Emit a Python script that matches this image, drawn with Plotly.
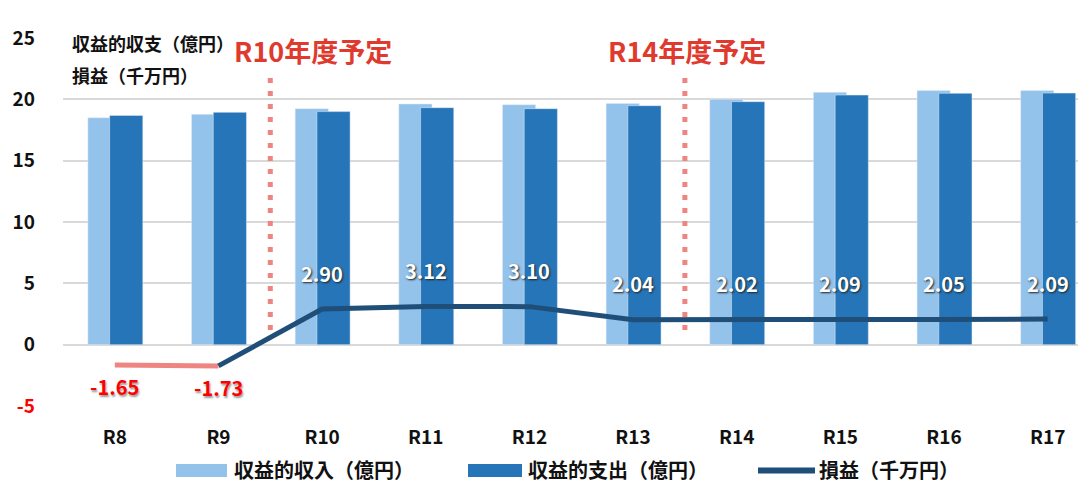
"""
収益的収支と損益の推移 - Plotly
"""

import plotly.graph_objects as go

# data
years = ["R8", "R9", "R10", "R11", "R12", "R13", "R14", "R15", "R16", "R17"]
income = [18.50, 18.78, 19.24, 19.62, 19.56, 19.67, 20.00, 20.57, 20.71, 20.71]   # 収益的収入（億円）
expense = [18.69, 18.94, 19.00, 19.32, 19.24, 19.48, 19.81, 20.35, 20.49, 20.51]  # 収益的支出（億円）
profit = [-1.65, -1.73, 2.90, 3.12, 3.10, 2.04, 2.02, 2.09, 2.05, 2.09]           # 損益（千万円）

y_ticks = [-5, 0, 5, 10, 15, 20, 25]
plan_marks = [(1.5, 1.91, "R10年度予定"), (5.5, 5.52, "R14年度予定")]

FONT = "Noto Sans CJK JP"
LIGHT = "#93C2EA"
DARK = "#2675B8"
NAVY = "#1F4E79"
PINK = "#EE8580"
RED = "#E03A2F"

# the page body adds an 8px margin, so the figure is a bit smaller than the window
OFF = 8
W, H = 1086 - OFF, 484 - OFF
ML, MR, MT, MB = 55, 0, 30, 78
PW, PH = W - ML - MR, H - MT - MB


def px_x(p):
    # window pixel -> paper x
    return (p - OFF - ML) / PW


def px_y(p):
    # window pixel -> paper y
    return (H - MB - (p - OFF)) / PH


idx = list(range(len(years)))

fig = go.Figure()

fig.add_trace(go.Bar(
    x=idx, y=income, name="収益的収入（億円）", showlegend=False,
    marker=dict(color=LIGHT), offset=-0.26, width=0.32,
))
fig.add_trace(go.Bar(
    x=idx, y=expense, name="収益的支出（億円）", showlegend=False,
    marker=dict(color=DARK), offset=-0.05, width=0.32,
))

# 損益: first segment (deficit) in pink, rest in navy
fig.add_trace(go.Scatter(
    x=idx[:2], y=profit[:2], mode="lines", showlegend=False,
    line=dict(color=PINK, width=5),
))
fig.add_trace(go.Scatter(
    x=idx[1:], y=profit[1:], mode="lines", name="損益（千万円）", showlegend=False,
    line=dict(color=NAVY, width=5),
))

# value labels
for i, v in enumerate(profit):
    if v >= 0:
        fig.add_annotation(
            x=i, y=v, text=f"{v:.2f}", showarrow=False, yshift=36,
            font=dict(family=FONT, size=20, color="white", weight="bold",
                      shadow="1px 1px 2px #222"),
        )
    else:
        fig.add_annotation(
            x=i, y=v, text=f"{v:.2f}", showarrow=False, yshift=-22,
            font=dict(family=FONT, size=20, color="#FF0000", weight="bold",
                      shadow="1px 2px 2px #999"),
        )

# plan markers
for xline, xtext, label in plan_marks:
    fig.add_shape(
        type="line", xref="x", yref="y", x0=xline, x1=xline, y0=1.2, y1=21.9,
        line=dict(color=PINK, width=5, dash="5px,8px"), layer="above",
    )
    fig.add_annotation(
        x=xtext, y=23.96, text=label, showarrow=False,
        font=dict(family=FONT, size=27, color=RED, weight="bold"),
    )

# unit captions
cap_font = dict(family=FONT, size=18, color="#111", weight="bold")
fig.add_annotation(x=px_x(70), xref="paper", y=px_y(28), yref="paper", xanchor="left",
                   text="収益的収支（億円）", showarrow=False, font=cap_font)
fig.add_annotation(x=px_x(70), xref="paper", y=px_y(60), yref="paper", xanchor="left",
                   text="損益（千万円）", showarrow=False, font=cap_font)

# legend (drawn by hand to get the wide swatches)
leg_y = 469
leg_font = dict(family=FONT, size=20, color="#111", weight="bold")
legend_items = [
    ("rect", LIGHT, 176, 227, 232, "収益的収入（億円）"),
    ("rect", DARK, 468, 522, 526, "収益的支出（億円）"),
    ("line", NAVY, 758, 815, 817, "損益（千万円）"),
]
for kind, color, x0, x1, xt, label in legend_items:
    if kind == "rect":
        fig.add_shape(type="rect", xref="paper", yref="paper",
                      x0=px_x(x0), x1=px_x(x1), y0=px_y(leg_y - 5), y1=px_y(leg_y + 8),
                      fillcolor=color, line=dict(width=0))
    else:
        fig.add_shape(type="line", xref="paper", yref="paper",
                      x0=px_x(x0), x1=px_x(x1), y0=px_y(leg_y + 1.5), y1=px_y(leg_y + 1.5),
                      line=dict(color=color, width=6))
    fig.add_annotation(x=px_x(xt), xref="paper", y=px_y(leg_y), yref="paper",
                       xanchor="left", yanchor="middle", text=label,
                       showarrow=False, font=leg_font)

tick_text = [f'<span style="color:#FF0000">{t}</span>' if t < 0 else str(t) for t in y_ticks]

fig.update_layout(
    width=W, height=H,
    margin=dict(l=ML, r=MR, t=MT, b=MB),
    paper_bgcolor="white", plot_bgcolor="white",
    barmode="overlay",
    showlegend=False,
    font=dict(family=FONT, color="#111"),
    xaxis=dict(
        range=[-0.5, 9.37], tickvals=idx, ticktext=years,
        showgrid=False, zeroline=False, ticks="", automargin=False,
        tickfont=dict(family=FONT, size=19, color="#111", weight="bold"),
        ticklabelstandoff=18,
    ),
    yaxis=dict(
        range=[-5, 25], tickvals=y_ticks, ticktext=tick_text,
        showgrid=True, gridcolor="#D9D9D9", gridwidth=2,
        zeroline=True, zerolinecolor="#D9D9D9", zerolinewidth=2,
        automargin=False,
        tickfont=dict(family=FONT, size=19, color="#111", weight="bold"),
        ticklabelstandoff=27,
    ),
)

fig.write_html("out.html")
